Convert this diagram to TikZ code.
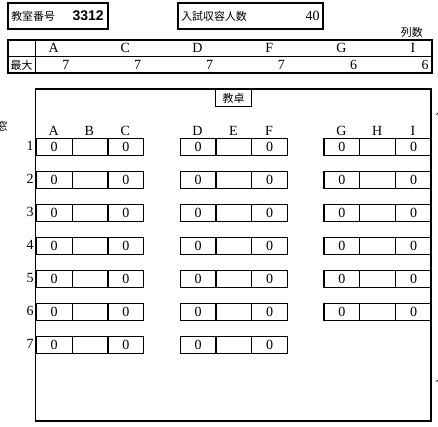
\documentclass[tikz,border=0pt]{standalone}
\usepackage{fontspec}
\setmainfont{Liberation Serif}
\setsansfont{Liberation Sans}
\newfontfamily\jpfont{Noto Sans CJK JP}
\usetikzlibrary{positioning}

\begin{document}
\begin{tikzpicture}[x=0.75pt,y=-0.75pt,
    every node/.style={inner sep=0pt,font=\fontsize{10.5}{12}\selectfont},
    jp/.style={font=\jpfont\fontsize{8.2}{10}\selectfont},
    frame/.style={draw,line width=0.9pt},
    seat/.style={draw,line width=0.9pt,minimum width=26.85pt,
                 minimum height=12.4pt,anchor=north west},
  ]
  \useasboundingbox (0,0) rectangle (438,426);
  \clip (0,0) rectangle (438,426);

  % header boxes
  \draw[frame] (8,3) rectangle (108,29);
  \node[jp,anchor=west] (roomlbl) at (11,16) {教室番号};
  \node[anchor=east,font=\sffamily\bfseries\fontsize{10.5}{12}\selectfont] (roomno) at (104,16) {3312};
  \draw[frame] (178,3) rectangle (323,29);
  \node[jp,anchor=west] (caplbl) at (181,16) {入試収容人数};
  \node[anchor=east] (capno) at (320,16) {40};

  % column count table
  \node[jp,anchor=south east] (colcnt) at (423,38) {列数};
  \draw[frame] (8,40) rectangle (432,73);
  \draw[frame] (8,56.5) -- (432,56.5);
  \draw[frame] (35.5,40) -- (35.5,73);
  \node[jp] (maxlbl) at (21.5,65) {最大};
  \foreach \c/\x/\n in {A/53.6/7, C/125.3/7, D/197.5/7, F/269.2/7, G/341.3/6, I/413/6} {
    \node (hd\c) at (\x,48) {\c};
    \node[anchor=east] (mx\c) at (\x+16,65) {\n};
  }

  % classroom
  \draw[frame] (35.7,89) rectangle (431,421);
  \node[jp,draw,line width=0.7pt,minimum width=27.5pt,minimum height=12.7pt,anchor=north] (desk) at (233.5,89) {教卓};
  \node[jp] (window) at (2,126) {窓};
  \node[jp] (entry1) at (441,111) {入};
  \node[jp] (entry2) at (441,378) {入};

  % seats
  \foreach \gx/\rows/\la/\lb/\lc in {35.7/7/A/B/C, 179.6/7/D/E/F, 323.4/6/G/H/I} {
    \node (col\la) at (\gx+17.9,131) {\la};
    \node (col\lb) at (\gx+53.7,131) {\lb};
    \node (col\lc) at (\gx+89.5,131) {\lc};
    \foreach \r in {1,...,\rows} {
      \node[seat] (s\la\r) at (\gx,105+33*\r) {0};
      \node[seat] (s\lb\r) at (\gx+35.8,105+33*\r) {};
      \node[seat] (s\lc\r) at (\gx+71.6,105+33*\r) {0};
    }
  }
  \foreach \r in {1,...,7}
    \node[anchor=east] (row\r) at (34,113.25+33*\r) {\r};
\end{tikzpicture}
\end{document}
